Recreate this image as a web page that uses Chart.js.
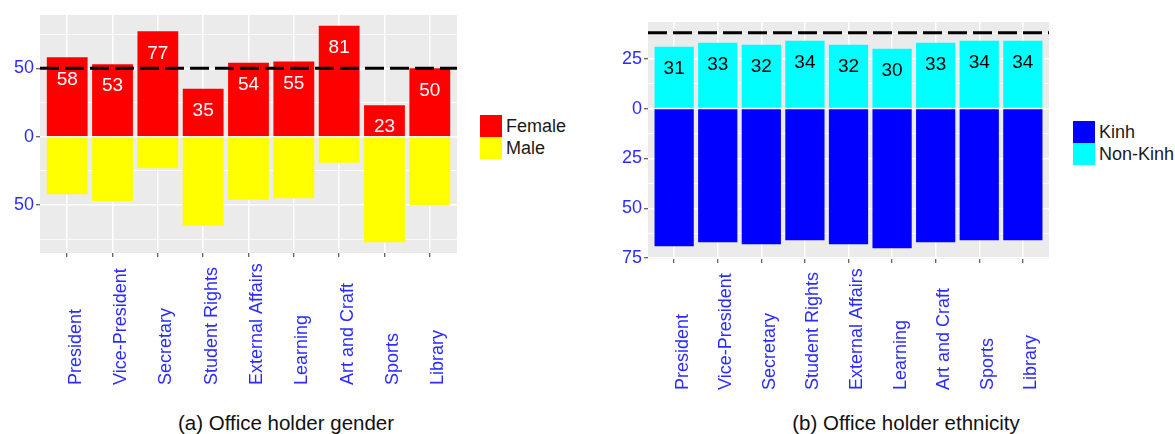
<!DOCTYPE html>
<html>
<head>
<meta charset="utf-8">
<script src="https://cdn.jsdelivr.net/npm/chart.js@4.4.0/dist/chart.umd.min.js"></script>
<style>
  html, body { margin: 0; padding: 0; background: #fff; }
  body { width: 1175px; height: 434px; position: relative; overflow: hidden; font-family: "Liberation Sans", Arial, sans-serif; }
  canvas { position: absolute; top: 0; }
  .legend { position: absolute; font-size: 18px; color: #1a1a1a; }
  .legend .row { display: flex; align-items: center; height: 22px; }
  .legend .key { width: 22px; height: 22px; margin-right: 4px; }
  .caption { position: absolute; top: 413px; font-size: 20.5px; line-height: 20px; color: #111; transform: translateX(-50%); white-space: nowrap; }
</style>
</head>
<body>
<canvas id="genderChart" width="470" height="400" style="left:0"></canvas>
<canvas id="ethnicityChart" width="470" height="400" style="left:600px"></canvas>

<div class="legend" style="left:480px; top:115px">
  <div class="row"><div class="key" style="background:#ff0000"></div>Female</div>
  <div class="row"><div class="key" style="background:#ffff00"></div>Male</div>
</div>
<div class="legend" style="left:1073px; top:121px">
  <div class="row"><div class="key" style="background:#0000ff"></div>Kinh</div>
  <div class="row"><div class="key" style="background:#00ffff"></div>Non-Kinh</div>
</div>

<div class="caption" style="left:286px">(a) Office holder gender</div>
<div class="caption" style="left:906px">(b) Office holder ethnicity</div>

<script>
const categories = ['President', 'Vice-President', 'Secretary', 'Student Rights', 'External Affairs',
                    'Learning', 'Art and Craft', 'Sports', 'Library'];

// percentages per office
const femaleShare  = [58, 53, 77, 35, 54, 55, 81, 23, 50];
const maleShare    = [42, 47, 23, 65, 46, 45, 19, 77, 50];
const nonKinhShare = [31, 33, 32, 34, 32, 30, 33, 34, 34];
const kinhShare    = [69, 67, 68, 66, 68, 70, 67, 66, 66];

// dashed reference lines
const genderRef = 50;
const ethnicityRef = 38;

// y axis ticks (negative side shown as absolute values)
const genderMajorTicks  = [-50, 0, 50];
const genderTickLabels  = ['50', '0', '50'];
const genderMinorTicks  = [-75, -25, 25, 75];
const ethnicMajorTicks  = [-75, -50, -25, 0, 25];
const ethnicTickLabels  = ['75', '50', '25', '0', '25'];
const ethnicMinorTicks  = [-62.5, -37.5, -12.5, 12.5, 37.5];

const FONT = '"Liberation Sans", Arial, sans-serif';
const AXIS_BLUE = '#2c2cff';

// ggplot style 5% expansion
function ggRange(lo, hi) {
    const pad = (hi - lo) * 0.05;
    return [lo - pad, hi + pad];
}

const panelPlugin = {
    id: 'panel',
    beforeDraw(chart) {
        const a = chart.chartArea;
        const ctx = chart.ctx;
        ctx.save();
        ctx.fillStyle = '#ebebeb';
        ctx.fillRect(a.left, a.top, a.right - a.left, a.bottom - a.top);
        ctx.restore();
    }
};

const refLinePlugin = {
    id: 'refLine',
    afterDatasetsDraw(chart, args, opts) {
        const a = chart.chartArea;
        const y = chart.scales.y.getPixelForValue(opts.value);
        const ctx = chart.ctx;
        ctx.save();
        ctx.strokeStyle = '#000';
        ctx.lineWidth = 3;
        ctx.setLineDash([19, 6]);
        ctx.beginPath();
        ctx.moveTo(a.left, y);
        ctx.lineTo(a.right, y);
        ctx.stroke();
        ctx.restore();
    }
};

const barLabelPlugin = {
    id: 'barLabels',
    afterDatasetsDraw(chart, args, opts) {
        const meta = chart.getDatasetMeta(0);
        const ctx = chart.ctx;
        ctx.save();
        ctx.font = '19px ' + FONT;
        ctx.fillStyle = opts.color;
        ctx.textAlign = 'center';
        ctx.textBaseline = 'middle';
        meta.data.forEach((bar, i) => {
            ctx.fillText(String(opts.values[i]), bar.x, bar.y + 22);
        });
        ctx.restore();
    }
};

// rotated category labels, all starting from the same baseline
const catLabelPlugin = {
    id: 'catLabels',
    afterDraw(chart, args, opts) {
        const xs = chart.scales.x;
        const ctx = chart.ctx;
        const startY = chart.chartArea.bottom + opts.drop;
        ctx.save();
        ctx.font = '18px ' + FONT;
        ctx.fillStyle = AXIS_BLUE;
        ctx.textAlign = 'left';
        ctx.textBaseline = 'alphabetic';
        categories.forEach((c, i) => {
            const x = xs.getPixelForValue(i + 1) + 13.5;
            ctx.save();
            ctx.translate(x, startY);
            ctx.rotate(-Math.PI / 2);
            ctx.fillText(c, 0, 0);
            ctx.restore();
        });
        ctx.restore();
    }
};

function buildChart(id, o) {
    const [yMin, yMax] = ggRange(o.lo, o.hi);
    const allTicks = o.majors.concat(o.minors).sort((a, b) => a - b);
    const isMajor = c => c.tick && o.majors.includes(c.tick.value);

    return new Chart(document.getElementById(id), {
        type: 'bar',
        data: {
            datasets: [{
                label: o.posLabel,
                data: o.pos.map((v, i) => ({ x: i + 1, y: v })),
                backgroundColor: o.posColor,
                barPercentage: 0.9,
                categoryPercentage: 1
            }, {
                label: o.negLabel,
                data: o.neg.map((v, i) => ({ x: i + 1, y: -v })),
                backgroundColor: o.negColor,
                barPercentage: 0.9,
                categoryPercentage: 1
            }]
        },
        options: {
            responsive: false,
            animation: false,
            devicePixelRatio: 1,
            layout: { padding: { top: o.top, right: o.right, left: 0, bottom: 0 } },
            plugins: {
                legend: { display: false },
                tooltip: { enabled: false },
                refLine: { value: o.ref },
                barLabels: { values: o.pos, color: o.labelColor },
                catLabels: { drop: o.drop }
            },
            scales: {
                x: {
                    type: 'linear',
                    min: 0.4,
                    max: 9.6,
                    offset: false,
                    stacked: true,
                    afterBuildTicks: s => { s.ticks = categories.map((c, i) => ({ value: i + 1 })); },
                    afterFit: s => { s.height = o.xHeight; },
                    ticks: { display: false },
                    grid: { offset: false, color: '#fff', lineWidth: 1.5, tickLength: 4, tickColor: '#333', tickWidth: 1 },
                    border: { display: false }
                },
                y: {
                    min: yMin,
                    max: yMax,
                    stacked: true,
                    afterBuildTicks: s => { s.ticks = allTicks.map(v => ({ value: v })); },
                    afterFit: s => { s.width = o.yWidth; },
                    ticks: {
                        callback: v => {
                            const k = o.majors.indexOf(v);
                            return k >= 0 ? o.majorLabels[k] : '';
                        },
                        color: AXIS_BLUE,
                        font: { size: 18, family: FONT },
                        padding: 2
                    },
                    grid: {
                        color: '#fff',
                        lineWidth: c => isMajor(c) ? 1.5 : 0.75,
                        tickColor: c => isMajor(c) ? '#333' : 'rgba(0,0,0,0)',
                        tickLength: 4,
                        tickWidth: 1
                    },
                    border: { display: false }
                }
            }
        },
        plugins: [panelPlugin, refLinePlugin, barLabelPlugin, catLabelPlugin]
    });
}

buildChart('genderChart', {
    pos: femaleShare, neg: maleShare,
    posLabel: 'Female', negLabel: 'Male',
    posColor: '#ff0000', negColor: '#ffff00', labelColor: '#ffffff',
    lo: -Math.max(...maleShare), hi: Math.max(...femaleShare, genderRef),
    ref: genderRef,
    majors: genderMajorTicks, majorLabels: genderTickLabels, minors: genderMinorTicks,
    top: 15, right: 13, yWidth: 40, xHeight: 147, drop: 132
});

buildChart('ethnicityChart', {
    pos: nonKinhShare, neg: kinhShare,
    posLabel: 'Non-Kinh', negLabel: 'Kinh',
    posColor: '#00ffff', negColor: '#0000ff', labelColor: '#000000',
    lo: -Math.max(...kinhShare), hi: Math.max(...nonKinhShare, ethnicityRef),
    ref: ethnicityRef,
    majors: ethnicMajorTicks, majorLabels: ethnicTickLabels, minors: ethnicMinorTicks,
    top: 22, right: 21, yWidth: 48, xHeight: 141, drop: 131
});
</script>
</body>
</html>
